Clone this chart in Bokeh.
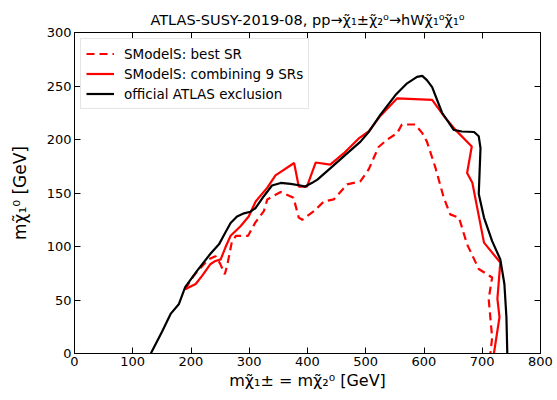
from bokeh.plotting import figure
from bokeh.models import LinearAxis, Range1d, Legend, LegendItem, FixedTicker
from bokeh.embed import file_html
from bokeh.resources import INLINE

# official ATLAS exclusion
atlas_x = [131, 150, 165, 179, 190, 210, 233, 248, 259, 268, 279, 291, 302, 311, 325, 339, 354, 371,
           388, 396, 408, 417, 439, 468, 491, 505, 525, 551, 571, 588, 597, 605, 614, 631, 651, 665,
           686, 694, 697, 694, 703, 717, 731, 738, 741.5, 743]
atlas_y = [0, 20, 37, 46, 62, 77, 93, 102, 113, 122, 128, 131, 132.5, 136, 147, 157, 159.4, 158.5,
           157, 156, 159.5, 162.5, 173, 187, 198, 207, 223, 241.5, 252.5, 258.5, 259.5, 255.5, 249, 225,
           209, 207.5, 207, 203, 192, 149, 127, 105, 88, 65, 34, 0]

# SModelS: combining 9 SRs
comb_x = [190, 208, 219, 233, 242, 251, 259, 268, 285, 299, 311, 331, 345, 377, 385, 399, 414, 439,
          462, 488, 505, 525, 554, 614, 634, 654, 682, 674, 683, 703, 731, 726, 729.6, 720]
comb_y = [60, 65, 72.6, 83.4, 86.5, 88, 99, 110, 119, 128, 142, 155, 166.5, 178, 156, 156, 178.5, 176.5,
          187, 201, 207.5, 222, 238.5, 237, 222, 209, 193.5, 168.7, 159.5, 103.6, 85, 51, 34, 0]

# SModelS: best SR
best_x = [190, 205, 230, 242, 250, 258, 262, 270, 277, 298, 310, 325, 331, 354, 376, 385, 391, 411,
          428, 445, 468, 491, 505, 522, 537, 554, 562, 585, 597, 605, 620, 634, 645, 660, 674, 694,
          717, 711, 717, 714]
best_y = [60, 73, 88, 91, 84, 74, 82, 104, 110, 110, 122, 133, 144, 151, 145.5, 127, 125, 133,
          142, 144, 158, 161, 172, 193, 200, 206, 214, 214, 206, 198, 173, 145.5, 130, 127, 102, 79,
          71, 51, 15, 0]

x_ticks = [0, 100, 200, 300, 400, 500, 600, 700, 800]
y_ticks = [0, 50, 100, 150, 200, 250, 300]

FONT = "DejaVu Sans"

p = figure(width=557, height=400, output_backend="svg", toolbar_location=None,
           x_range=Range1d(0, 800), y_range=Range1d(0, 300),
           title="ATLAS-SUSY-2019-08, pp\u2192\u03c7\u0303\u2081\u00b1\u03c7\u0303\u2082\u2070\u2192hW\u03c7\u0303\u2081\u2070\u03c7\u0303\u2081\u2070",
           min_border_left=74, min_border_right=17, min_border_top=32, min_border_bottom=47)

p.title.align = "center"
p.title.text_font = FONT
p.title.text_font_size = "14.5px"
p.title.text_font_style = "normal"
p.title.text_color = "black"
p.title.offset = 0

p.grid.visible = False
p.outline_line_color = "black"
p.outline_line_width = 1

xa = p.xaxis[0]
ya = p.yaxis[0]
xa.ticker = FixedTicker(ticks=x_ticks)
ya.ticker = FixedTicker(ticks=y_ticks)
for ax in (xa, ya):
    ax.major_tick_in = 6
    ax.major_tick_out = 0
    ax.minor_tick_line_color = None
    ax.axis_line_color = "black"
    ax.major_tick_line_color = "black"
    ax.major_label_text_font = FONT
    ax.major_label_text_font_size = "13px"
    ax.major_label_text_color = "black"
    ax.major_label_standoff = 3
    ax.axis_label_text_font = FONT
    ax.axis_label_text_font_size = "16px"
    ax.axis_label_text_font_style = "normal"
    ax.axis_label_text_color = "black"
xa.axis_label_standoff = 2
ya.axis_label_standoff = 14
ya.axis_label_text_font_size = "17px"
xa.axis_label = "m\u03c7\u0303\u2081\u00b1 = m\u03c7\u0303\u2082\u2070 [GeV]"
ya.axis_label = "m\u03c7\u0303\u2081\u2070 [GeV]"

top = LinearAxis(ticker=FixedTicker(ticks=x_ticks),
                 major_label_overrides={t: "" for t in x_ticks})
right = LinearAxis(ticker=FixedTicker(ticks=y_ticks),
                   major_label_overrides={t: "" for t in y_ticks})
for ax in (top, right):
    ax.major_tick_in = 6
    ax.major_tick_out = 0
    ax.minor_tick_line_color = None
    ax.axis_line_color = "black"
    ax.major_tick_line_color = "black"
    ax.major_label_text_font_size = "1px"
    ax.major_label_text_color = None
    ax.major_label_standoff = 0
top.major_label_standoff = 5
p.add_layout(top, "above")
p.add_layout(right, "right")

r_best = p.line(best_x, best_y, line_color="red", line_width=2.2, line_dash="8 5")
r_comb = p.line(comb_x, comb_y, line_color="red", line_width=2.2)
r_atlas = p.line(atlas_x, atlas_y, line_color="black", line_width=2.2)

legend = Legend(items=[
    LegendItem(label="SModelS: best SR", renderers=[r_best]),
    LegendItem(label="SModelS: combining 9 SRs", renderers=[r_comb]),
    LegendItem(label="official ATLAS exclusion", renderers=[r_atlas]),
], location="top_left")
legend.label_text_font = FONT
legend.label_text_font_size = "13.5px"
legend.label_text_color = "black"
legend.border_line_color = "#cccccc"
legend.border_line_width = 1
legend.background_fill_alpha = 0.8
legend.margin = 6
legend.padding = 5
legend.spacing = 1
legend.label_height = 19
legend.glyph_height = 19
legend.glyph_width = 28
legend.label_standoff = 10
p.add_layout(legend, "center")

open("out.html", "w").write(file_html(p, INLINE))
